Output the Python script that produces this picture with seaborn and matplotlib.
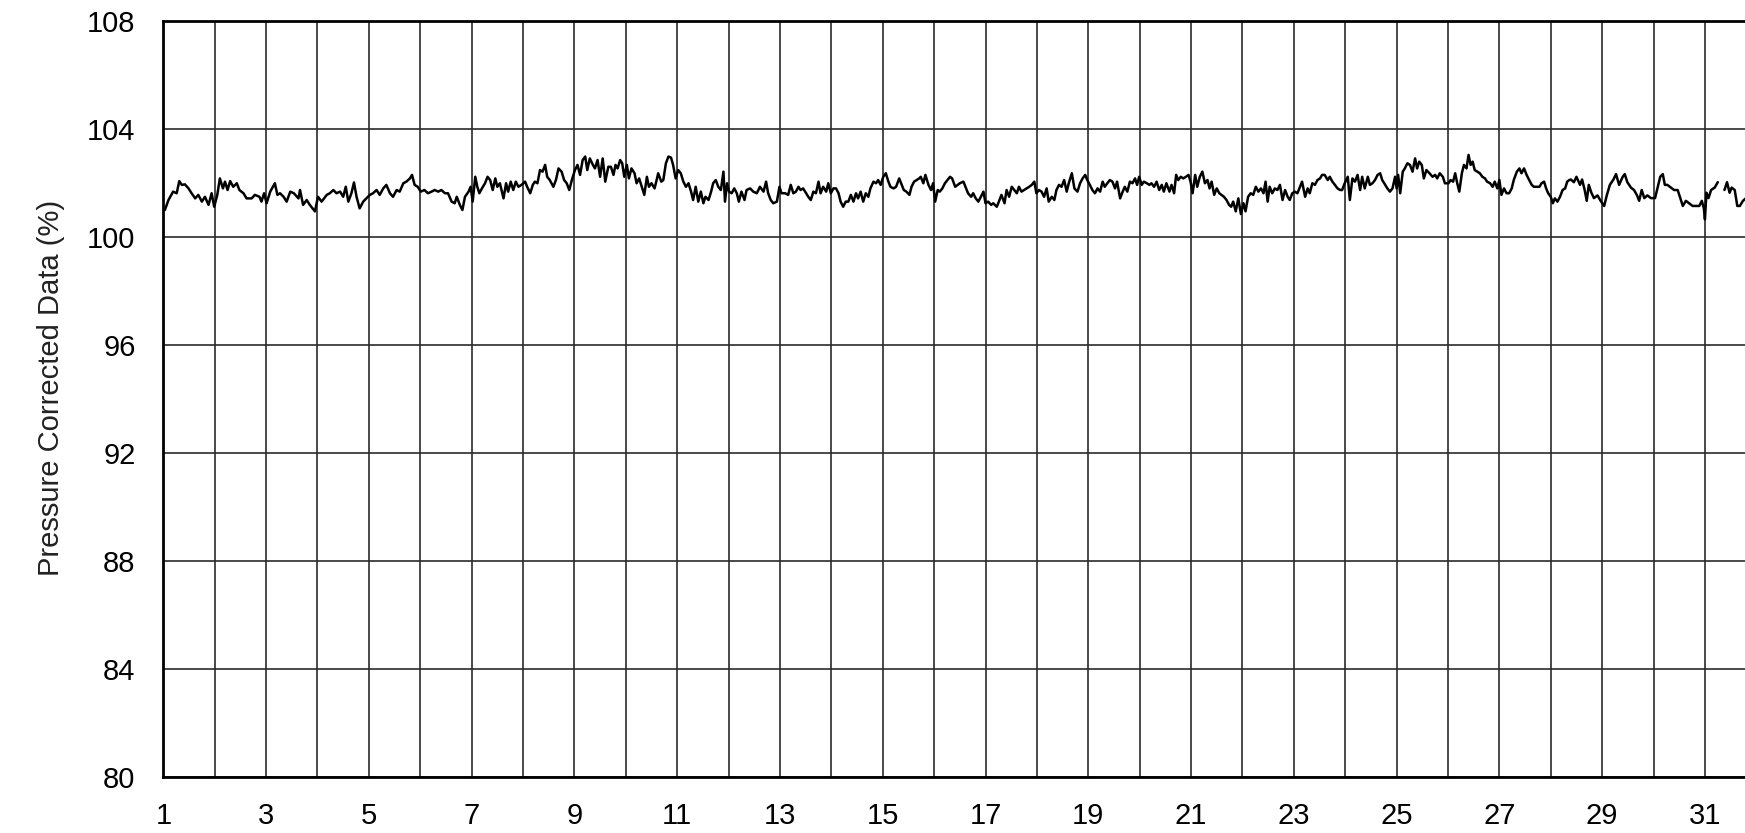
import numpy as np
import pandas as pd
import matplotlib
matplotlib.use("Agg")
import matplotlib.pyplot as plt
import seaborn as sns

# (day, pressure corrected %), about 20 readings per day
days_01_04 = [(1.03, 101.00), (1.10, 101.37), (1.19, 101.68), (1.26, 101.62), (1.31, 102.07), (1.36, 101.93),
              (1.42, 101.95), (1.49, 101.80), (1.55, 101.62), (1.62, 101.43), (1.68, 101.56), (1.75, 101.31),
              (1.81, 101.49), (1.88, 101.19), (1.94, 101.62), (1.99, 101.12), (2.05, 101.56), (2.10, 102.17),
              (2.16, 101.80), (2.20, 102.05), (2.25, 101.74), (2.30, 102.07), (2.36, 101.86), (2.43, 101.99),
              (2.48, 101.74), (2.56, 101.62), (2.62, 101.43), (2.72, 101.43), (2.78, 101.56), (2.87, 101.49),
              (2.91, 101.31), (2.96, 101.62), (3.01, 101.25), (3.08, 101.68), (3.17, 101.99), (3.22, 101.56),
              (3.27, 101.62), (3.34, 101.49), (3.40, 101.31), (3.47, 101.68), (3.54, 101.62), (3.63, 101.43),
              (3.66, 101.74), (3.72, 101.19), (3.79, 101.37), (3.85, 101.19), (3.95, 100.95), (4.01, 101.49),
              (4.08, 101.31), (4.18, 101.56), (4.24, 101.62), (4.31, 101.74), (4.37, 101.62), (4.44, 101.68),
              (4.50, 101.49), (4.55, 101.86), (4.60, 101.31), (4.66, 101.62), (4.71, 102.02), (4.76, 101.49),
              (4.82, 101.06), (4.89, 101.31), (4.95, 101.43)]
days_05_07 = [(5.02, 101.56), (5.08, 101.62), (5.15, 101.74), (5.21, 101.56), (5.28, 101.80), (5.34, 101.93),
              (5.41, 101.62), (5.47, 101.49), (5.54, 101.74), (5.60, 101.68), (5.67, 101.99), (5.73, 102.05),
              (5.80, 102.17), (5.84, 102.30), (5.89, 101.93), (5.95, 101.86), (6.01, 101.68), (6.08, 101.74),
              (6.15, 101.62), (6.22, 101.68), (6.28, 101.74), (6.35, 101.68), (6.41, 101.74), (6.48, 101.62),
              (6.54, 101.62), (6.61, 101.31), (6.67, 101.25), (6.71, 101.49), (6.77, 101.19), (6.82, 101.00),
              (6.87, 101.49), (6.94, 101.68), (6.98, 101.86), (7.02, 101.31), (7.07, 102.23), (7.11, 101.86),
              (7.15, 101.62), (7.20, 101.80), (7.26, 101.99), (7.31, 102.23), (7.36, 102.11), (7.41, 101.74),
              (7.46, 102.17), (7.50, 101.86), (7.55, 101.99), (7.62, 101.43), (7.67, 101.99), (7.71, 101.68),
              (7.76, 102.05), (7.81, 101.74), (7.86, 102.05), (7.91, 101.86), (7.97, 101.93)]
days_08_10 = [(8.04, 102.05), (8.08, 101.86), (8.14, 101.62), (8.19, 101.93), (8.23, 102.05), (8.28, 101.99),
              (8.33, 102.48), (8.38, 102.42), (8.43, 102.67), (8.47, 102.23), (8.52, 102.11), (8.59, 101.86),
              (8.64, 102.11), (8.69, 102.54), (8.75, 102.42), (8.80, 102.11), (8.85, 101.99), (8.90, 101.74),
              (8.95, 102.11), (9.01, 102.48), (9.06, 102.67), (9.11, 102.30), (9.16, 102.85), (9.21, 102.98),
              (9.25, 102.48), (9.30, 102.91), (9.36, 102.67), (9.40, 102.54), (9.45, 102.85), (9.50, 102.23),
              (9.55, 102.91), (9.60, 102.05), (9.66, 102.60), (9.71, 102.60), (9.76, 102.30), (9.80, 102.67),
              (9.84, 102.54), (9.89, 102.85), (9.93, 102.73), (9.97, 102.23), (10.02, 102.67), (10.06, 102.17),
              (10.11, 102.54), (10.17, 102.36), (10.21, 101.99), (10.26, 102.17), (10.31, 101.86), (10.36, 101.56),
              (10.41, 102.23), (10.45, 101.86), (10.50, 101.99), (10.56, 101.80), (10.60, 102.11), (10.63, 102.36),
              (10.69, 102.05), (10.73, 102.11), (10.78, 102.73), (10.83, 102.98), (10.88, 102.94), (10.92, 102.67),
              (10.97, 102.17)]
days_11_13 = [(11.02, 102.48), (11.07, 102.36), (11.12, 102.05), (11.17, 101.86), (11.22, 101.99), (11.27, 101.68),
              (11.31, 101.37), (11.36, 101.86), (11.41, 101.31), (11.46, 101.68), (11.51, 101.25), (11.55, 101.49),
              (11.61, 101.37), (11.66, 101.68), (11.70, 101.99), (11.75, 102.11), (11.80, 101.86), (11.85, 101.74),
              (11.90, 102.42), (11.93, 101.31), (11.97, 101.99), (12.01, 101.68), (12.06, 101.62), (12.11, 101.80),
              (12.16, 101.62), (12.20, 101.31), (12.25, 101.68), (12.31, 101.37), (12.35, 101.74), (12.42, 101.80),
              (12.48, 101.68), (12.55, 101.62), (12.61, 101.86), (12.68, 101.68), (12.73, 102.05), (12.77, 101.62),
              (12.82, 101.37), (12.87, 101.25), (12.94, 101.31), (12.99, 101.86), (13.03, 101.62), (13.10, 101.62),
              (13.16, 101.56), (13.21, 101.93), (13.26, 101.62), (13.31, 101.68), (13.36, 101.86), (13.40, 101.74),
              (13.45, 101.80), (13.51, 101.62), (13.55, 101.49), (13.60, 101.37), (13.65, 101.68), (13.70, 101.62),
              (13.75, 102.05), (13.79, 101.62), (13.84, 101.86), (13.90, 101.68), (13.94, 101.99), (13.99, 101.62)]
days_14_16 = [(14.04, 101.80), (14.09, 101.80), (14.14, 101.62), (14.18, 101.31), (14.23, 101.12), (14.28, 101.31),
              (14.33, 101.31), (14.38, 101.56), (14.43, 101.31), (14.48, 101.62), (14.52, 101.43), (14.57, 101.68),
              (14.62, 101.31), (14.67, 101.62), (14.72, 101.49), (14.76, 101.80), (14.82, 102.05), (14.87, 101.99),
              (14.91, 102.11), (14.96, 101.93), (15.01, 102.23), (15.06, 102.36), (15.11, 102.05), (15.15, 101.86),
              (15.21, 101.80), (15.26, 101.86), (15.32, 102.17), (15.37, 101.93), (15.41, 101.74), (15.46, 101.68),
              (15.52, 101.56), (15.56, 101.86), (15.61, 102.05), (15.66, 102.11), (15.71, 102.17), (15.74, 102.23),
              (15.79, 101.99), (15.83, 102.30), (15.89, 101.93), (15.94, 101.74), (15.98, 101.99), (16.02, 101.31),
              (16.07, 101.74), (16.11, 101.68), (16.16, 101.80), (16.21, 101.99), (16.26, 102.11), (16.31, 102.23),
              (16.35, 102.17), (16.41, 101.86), (16.46, 101.93), (16.50, 101.99), (16.57, 102.05), (16.61, 101.86),
              (16.66, 101.62), (16.72, 101.49), (16.76, 101.62), (16.81, 101.43), (16.86, 101.31), (16.91, 101.49),
              (16.96, 101.68)]
days_17_19 = [(17.00, 101.25), (17.05, 101.31), (17.11, 101.19), (17.15, 101.25), (17.22, 101.12), (17.26, 101.31),
              (17.31, 101.56), (17.37, 101.25), (17.41, 101.74), (17.46, 101.49), (17.51, 101.86), (17.56, 101.74),
              (17.61, 101.62), (17.65, 101.86), (17.70, 101.68), (17.75, 101.74), (17.80, 101.80), (17.85, 101.86),
              (17.90, 101.93), (17.95, 102.05), (17.99, 101.62), (18.04, 101.74), (18.09, 101.68), (18.14, 101.49),
              (18.19, 101.80), (18.23, 101.31), (18.29, 101.49), (18.34, 101.37), (18.38, 101.74), (18.43, 101.93),
              (18.48, 101.86), (18.53, 102.11), (18.58, 101.68), (18.62, 101.99), (18.68, 102.36), (18.73, 101.80),
              (18.79, 101.68), (18.84, 101.99), (18.89, 102.17), (18.94, 102.30), (18.98, 102.11), (19.03, 101.93),
              (19.08, 101.74), (19.13, 101.62), (19.18, 101.80), (19.23, 101.68), (19.28, 102.05), (19.32, 101.86),
              (19.37, 101.99), (19.42, 102.11), (19.47, 102.05), (19.52, 101.80), (19.56, 102.05), (19.62, 101.43),
              (19.67, 101.68), (19.71, 101.86), (19.76, 101.68), (19.81, 102.05), (19.86, 101.99), (19.91, 102.17),
              (19.95, 101.93), (19.99, 102.23)]
days_20_22 = [(20.04, 101.93), (20.08, 102.05), (20.14, 101.99), (20.19, 101.93), (20.23, 101.99), (20.28, 101.86),
              (20.33, 102.05), (20.38, 101.74), (20.43, 101.93), (20.47, 101.68), (20.52, 101.99), (20.58, 101.68),
              (20.62, 101.93), (20.67, 101.62), (20.71, 102.30), (20.75, 102.11), (20.80, 102.23), (20.85, 102.17),
              (20.90, 102.23), (20.95, 102.30), (20.99, 102.05), (21.03, 101.62), (21.08, 102.30), (21.12, 101.86),
              (21.17, 102.23), (21.22, 102.42), (21.27, 101.99), (21.32, 102.11), (21.36, 101.80), (21.40, 102.05),
              (21.45, 101.56), (21.50, 101.80), (21.55, 101.62), (21.59, 101.56), (21.64, 101.49), (21.69, 101.37),
              (21.74, 101.19), (21.78, 101.12), (21.82, 101.31), (21.87, 100.95), (21.92, 101.43), (21.97, 100.85),
              (22.02, 101.25), (22.06, 100.95), (22.11, 101.49), (22.16, 101.62), (22.21, 101.56), (22.26, 101.86),
              (22.31, 101.68), (22.36, 101.80), (22.41, 101.62), (22.45, 102.05), (22.49, 101.31), (22.53, 101.86),
              (22.58, 101.62), (22.63, 101.80), (22.68, 101.74), (22.73, 101.93), (22.78, 101.37), (22.83, 101.74),
              (22.88, 101.49), (22.92, 101.37), (22.97, 101.62)]
days_23_25 = [(23.02, 101.68), (23.07, 101.62), (23.12, 101.86), (23.16, 102.05), (23.22, 101.49), (23.27, 101.80),
              (23.31, 101.62), (23.36, 101.99), (23.41, 101.93), (23.46, 102.11), (23.51, 102.17), (23.55, 102.30),
              (23.60, 102.30), (23.66, 102.11), (23.70, 102.23), (23.75, 102.05), (23.80, 101.93), (23.85, 101.80),
              (23.90, 101.74), (23.94, 101.74), (23.99, 101.99), (24.05, 102.23), (24.09, 101.37), (24.14, 102.17),
              (24.19, 102.05), (24.24, 102.30), (24.29, 101.74), (24.33, 102.23), (24.38, 101.80), (24.44, 102.23),
              (24.48, 101.93), (24.53, 101.99), (24.58, 102.11), (24.63, 102.30), (24.68, 102.36), (24.72, 102.11),
              (24.76, 101.99), (24.82, 101.80), (24.87, 101.68), (24.92, 101.80), (24.97, 102.23), (25.00, 101.80),
              (25.03, 102.30), (25.07, 101.62), (25.12, 102.42), (25.16, 102.54), (25.21, 102.73), (25.26, 102.67),
              (25.31, 102.42), (25.36, 102.91), (25.40, 102.54), (25.44, 102.79), (25.49, 102.67), (25.53, 102.17),
              (25.58, 102.48), (25.64, 102.36), (25.70, 102.23), (25.75, 102.30), (25.79, 102.17), (25.84, 102.36),
              (25.90, 102.23), (25.94, 101.99)]
days_26_28 = [(26.01, 101.99), (26.05, 102.11), (26.10, 102.05), (26.14, 102.36), (26.18, 101.99), (26.22, 101.68),
              (26.27, 102.36), (26.31, 102.67), (26.36, 102.54), (26.40, 103.04), (26.44, 102.67), (26.48, 102.79),
              (26.52, 102.48), (26.57, 102.42), (26.62, 102.36), (26.67, 102.23), (26.72, 102.17), (26.76, 102.05),
              (26.82, 101.99), (26.87, 101.86), (26.91, 102.05), (26.96, 101.80), (27.00, 102.11), (27.04, 101.56),
              (27.09, 101.80), (27.14, 101.62), (27.19, 101.62), (27.24, 101.80), (27.28, 102.11), (27.34, 102.42),
              (27.39, 102.54), (27.43, 102.36), (27.48, 102.54), (27.53, 102.30), (27.58, 102.11), (27.63, 101.93),
              (27.67, 101.86), (27.72, 101.86), (27.78, 101.86), (27.82, 101.99), (27.87, 102.05), (27.91, 101.80),
              (27.95, 101.62), (28.00, 101.49), (28.04, 101.25), (28.08, 101.43), (28.13, 101.31), (28.18, 101.49),
              (28.23, 101.74), (28.28, 101.80), (28.32, 102.05), (28.36, 102.11), (28.39, 102.13), (28.45, 102.03),
              (28.50, 102.23), (28.57, 101.93), (28.61, 102.13), (28.66, 101.74), (28.70, 101.34), (28.74, 101.93),
              (28.79, 101.64), (28.84, 101.44), (28.91, 101.54), (28.97, 101.34)]
days_29_31 = [(29.04, 101.15), (29.09, 101.54), (29.15, 101.93), (29.22, 102.13), (29.27, 102.33), (29.33, 101.93),
              (29.40, 102.23), (29.44, 102.33), (29.49, 102.03), (29.56, 101.83), (29.62, 101.74), (29.68, 101.54),
              (29.72, 101.34), (29.77, 101.74), (29.82, 101.44), (29.88, 101.54), (29.95, 101.44), (30.03, 101.44),
              (30.08, 101.83), (30.13, 102.23), (30.18, 102.33), (30.22, 101.93), (30.27, 101.93), (30.34, 101.83),
              (30.40, 101.74), (30.47, 101.74), (30.52, 101.44), (30.57, 101.15), (30.63, 101.34), (30.70, 101.24),
              (30.76, 101.15), (30.83, 101.15), (30.89, 101.15), (30.94, 101.34), (30.98, 101.05), (31.00, 100.65),
              (31.03, 101.64), (31.07, 101.44), (31.12, 101.74), (31.19, 101.83), (31.25, 102.03)]
# readings after the short gap in the record
days_31_end = [(31.38, 101.74), (31.43, 102.03), (31.48, 101.64), (31.52, 101.83), (31.58, 101.74), (31.63, 101.15),
               (31.68, 101.15), (31.74, 101.34), (31.80, 101.44)]

y_ticks = [80, 84, 88, 92, 96, 100, 104, 108]
x_ticks = list(range(1, 32, 2))

before_gap = (days_01_04 + days_05_07 + days_08_10 + days_11_13 + days_14_16
              + days_17_19 + days_20_22 + days_23_25 + days_26_28 + days_29_31)
df = pd.concat([
    pd.DataFrame(before_gap, columns=["day", "pct"]).assign(part=0),
    pd.DataFrame(days_31_end, columns=["day", "pct"]).assign(part=1),
], ignore_index=True)

sns.set_style("white")
plt.rcParams["font.family"] = ["Liberation Sans", "DejaVu Sans"]

fig = plt.figure(figsize=(17.45, 8.33), dpi=100)
ax = fig.add_axes([0.0936, 0.0672, 0.9064, 0.9076])

sns.lineplot(data=df, x="day", y="pct", units="part", estimator=None,
             color="black", linewidth=1.8, ax=ax, zorder=3)

ax.set_xlim(1, 31.78)
ax.set_ylim(80, 108)
ax.set_xticks(x_ticks)
ax.set_xticks(np.arange(1, 32), minor=True)
ax.set_yticks(y_ticks)
ax.grid(True, which="both", color="#2b2b2b", linewidth=1.2)
ax.set_axisbelow(True)
ax.tick_params(axis="both", which="both", length=0, labelsize=21, colors="black")
ax.tick_params(axis="y", pad=20)
ax.tick_params(axis="x", pad=18)

ax.set_xlabel("")
ax.set_ylabel("Pressure Corrected Data (%)", fontsize=21, color="#222222", labelpad=15)
ax.yaxis.set_label_coords(-0.062, 0.515)

for side in ["left", "bottom", "top"]:
    ax.spines[side].set_color("black")
    ax.spines[side].set_linewidth(2.0)
ax.spines["right"].set_visible(False)

fig.savefig("out.png", dpi=100)
